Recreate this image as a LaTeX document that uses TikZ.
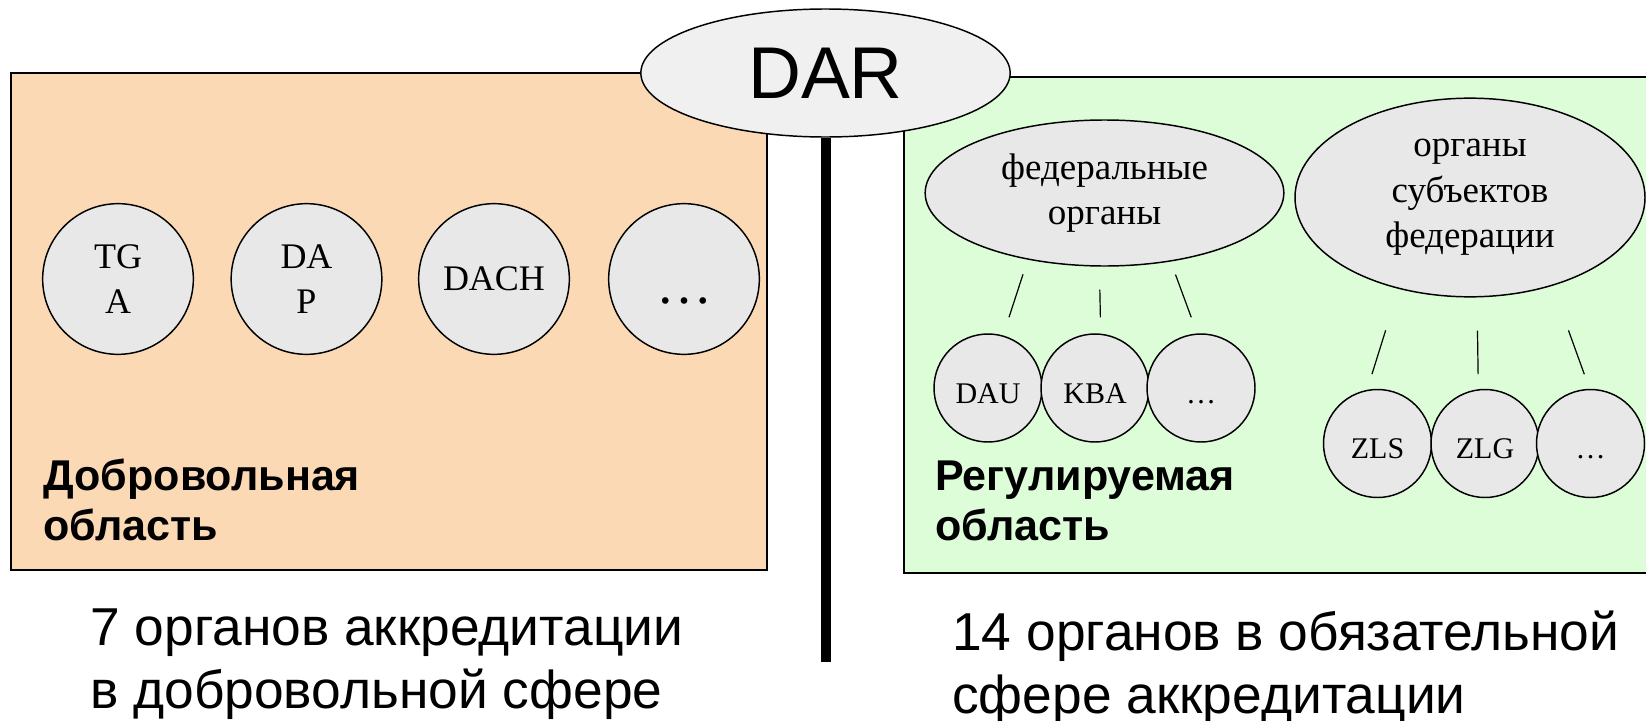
\documentclass[tikz,border=0pt]{standalone}
\usepackage{fontspec}
\setmainfont{Liberation Serif}
\setsansfont{Liberation Sans}
\usetikzlibrary{shapes.geometric}

\definecolor{volfill}{RGB}{252,217,181}
\definecolor{regfill}{RGB}{221,253,216}
\definecolor{orgfill}{RGB}{232,232,232}
\definecolor{darfill}{RGB}{240,240,240}

\tikzset{
  bigorg/.style={circle,draw,line width=1.1pt,fill=orgfill,minimum size=113pt,inner sep=0pt,
    align=center,font=\fontsize{27}{33.75}\selectfont},
  smallorg/.style={circle,draw,line width=1.1pt,fill=orgfill,minimum size=81pt,inner sep=0pt,
    text height=22.5pt,text depth=0pt,font=\fontsize{22.5}{27}\selectfont},
  grouporg/.style={ellipse,draw,line width=1.1pt,fill=orgfill,inner sep=0pt,align=center,
    font=\fontsize{27.75}{34}\selectfont},
  arealabel/.style={anchor=base west,inner sep=0pt,align=left,
    font=\sffamily\bfseries\fontsize{32.3}{37.5}\selectfont},
  summary/.style={anchor=base west,inner sep=0pt,align=left,
    font=\sffamily\fontsize{40}{47.25}\selectfont},
  memberline/.style 2 args={line width=0.9pt,shorten <=#1,shorten >=#2},
}

\begin{document}
\begin{tikzpicture}[x=0.75pt,y=0.75pt,yscale=-1,xscale=1]
    \useasboundingbox (0,0) rectangle (1646,721);
    %Shape: Rectangle
    \draw [line width=1pt,fill=volfill] (11,73) rectangle (767,570) ;
    %Shape: Rectangle
    \draw [line width=1pt,fill=regfill] (904,77) rectangle (1660,573) ;
    %Shape: Ellipse
    \node [ellipse,draw,line width=1.1pt,fill=darfill,minimum width=277pt,minimum height=96pt,inner sep=0pt,
      font=\sffamily\fontsize{55}{60}\selectfont] (dar) at (825.5,73) {DAR};
    %Straight Lines
    \coordinate (darfoot) at (828,662);
    \draw [line width=7.5pt] (dar.south) -- (dar.south |- darfoot) ;

    %Shape: Circle
    \node [bigorg] (tga) at (118,279) {TG\\A};
    \node [bigorg] (dap) at (306.5,279) {DA\\P};
    \node [bigorg] (dach) at (494,279) {DACH};
    \node [bigorg,text height=36pt,text depth=0pt,font=\fontsize{42}{42}\selectfont] (voldots) at (684,279) {…};

    %Shape: Ellipse
    \node [grouporg,minimum width=269pt,minimum height=109.5pt] (fed) at (1104.5,193) {федеральные\\органы};
    \node [grouporg,minimum width=262.5pt,minimum height=149pt] (subj) at (1470,197.5) {органы\\субъектов\\федерации};

    %Shape: Circle
    \node [smallorg] (dau) at (988,388) {DAU};
    \node [smallorg] (kba) at (1095,388) {KBA};
    \node [smallorg] (feddots) at (1201,388) {…};
    \node [smallorg] (zls) at (1377.5,443.5) {ZLS};
    \node [smallorg] (zlg) at (1485,443.5) {ZLG};
    \node [smallorg] (subjdots) at (1590.5,443.5) {…};

    %Straight Lines
    \draw [memberline={11.6pt}{14.3pt}] (fed.221.9) -- (dau.74.4) ;
    \draw [memberline={17.2pt}{12.2pt}] (fed.266.5) -- (kba.84.7) ;
    \draw [memberline={10.4pt}{12.9pt}] (fed.314.1) -- (feddots.94.4) ;
    \draw [memberline={32.5pt}{12.3pt}] (subj.232.8) -- (zls.101.4) ;
    \draw [memberline={24.8pt}{11.2pt}] (subj.274.6) -- (zlg.97.5) ;
    \draw [memberline={35.5pt}{11.6pt}] (subj.313.1) -- (subjdots.91.4) ;

    % Text Node
    \node [arealabel] (vollabel) at (43,540) {Добровольная\\область};
    % Text Node
    \node [arealabel] (reglabel) at (935,540) {Регулируемая\\область};
    % Text Node
    \node [summary] (volsum) at (90,708) {7 органов аккредитации\\в добровольной сфере};
    % Text Node
    \node [summary] (regsum) at (952,713) {14 органов в обязательной\\сфере аккредитации};
\end{tikzpicture}
\end{document}
